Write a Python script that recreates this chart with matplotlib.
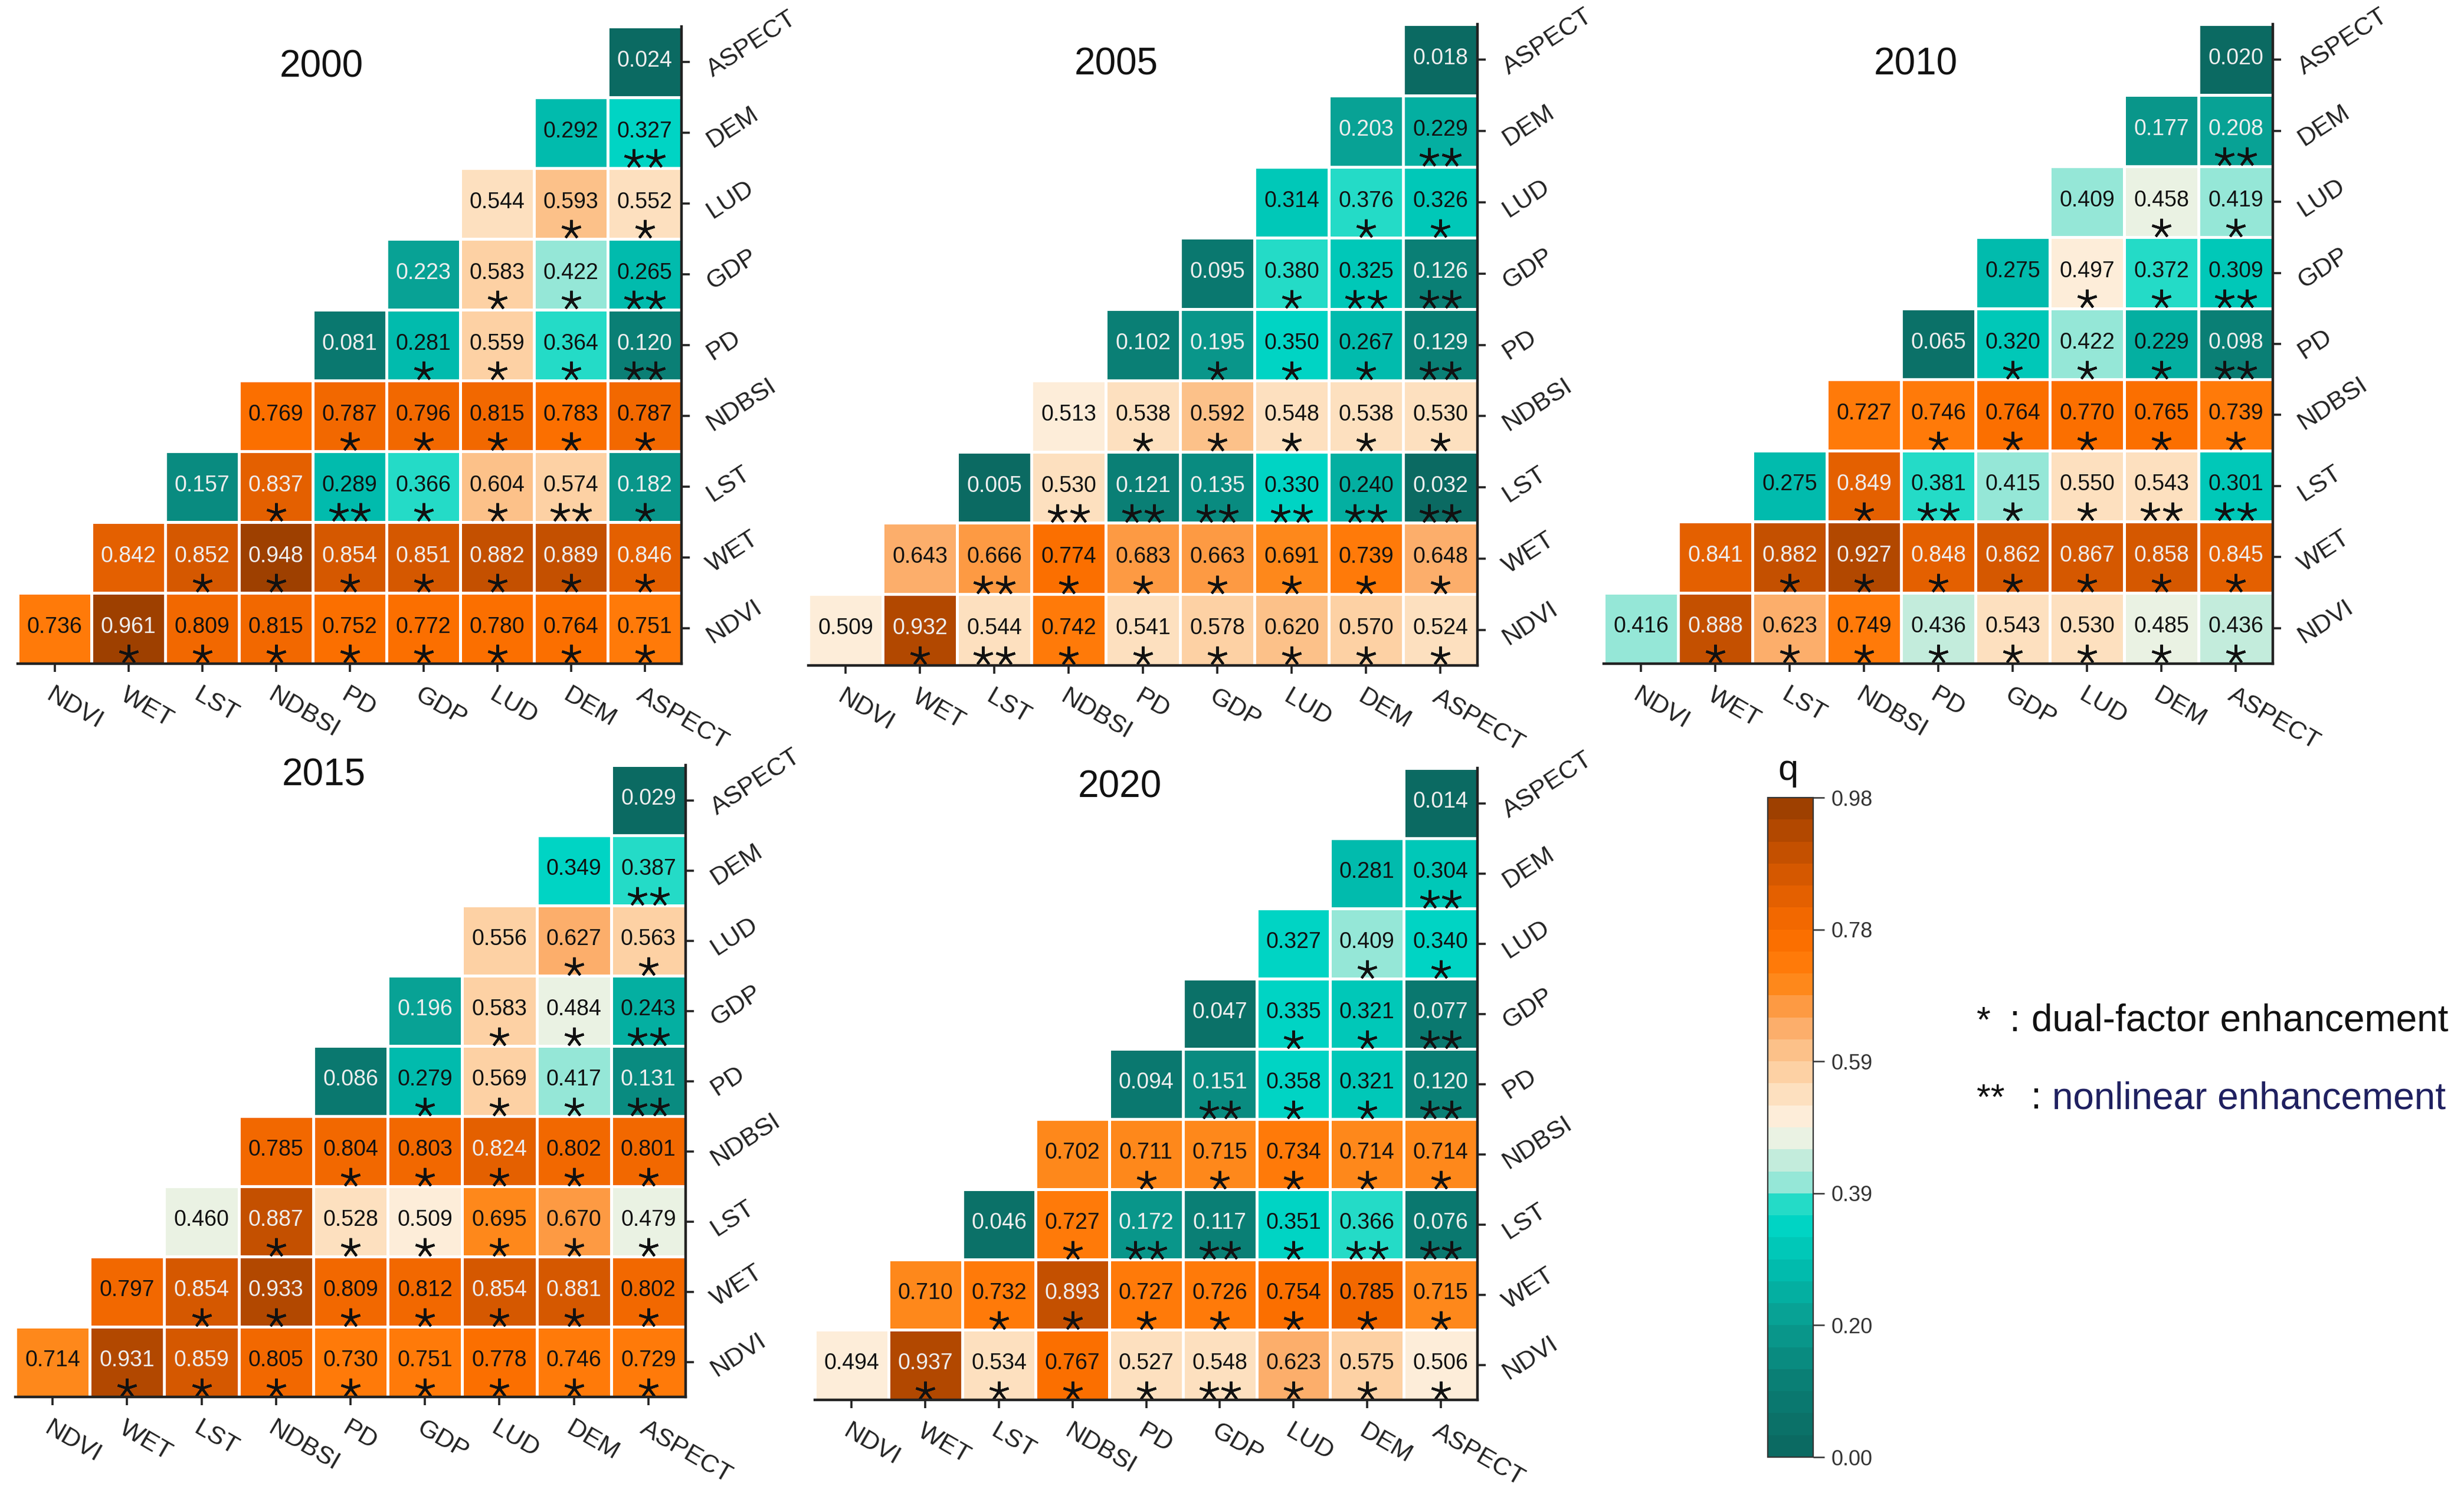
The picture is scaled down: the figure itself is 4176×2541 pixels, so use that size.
import numpy as np
import matplotlib

matplotlib.use("Agg")
import matplotlib.pyplot as plt
from matplotlib.colors import LinearSegmentedColormap, Normalize

plt.rcParams["font.family"] = ["Liberation Sans", "DejaVu Sans"]

FACTORS = ["NDVI", "WET", "LST", "NDBSI", "PD", "GDP", "LUD", "DEM", "ASPECT"]

# q values, one list per row (NDVI at the bottom), from the diagonal to ASPECT
Q_2000 = [
    [0.736, 0.961, 0.809, 0.815, 0.752, 0.772, 0.780, 0.764, 0.751],
    [0.842, 0.852, 0.948, 0.854, 0.851, 0.882, 0.889, 0.846],
    [0.157, 0.837, 0.289, 0.366, 0.604, 0.574, 0.182],
    [0.769, 0.787, 0.796, 0.815, 0.783, 0.787],
    [0.081, 0.281, 0.559, 0.364, 0.120],
    [0.223, 0.583, 0.422, 0.265],
    [0.544, 0.593, 0.552],
    [0.292, 0.327],
    [0.024],
]
STARS_2000 = [
    [0, 1, 1, 1, 1, 1, 1, 1, 1],
    [0, 1, 1, 1, 1, 1, 1, 1],
    [0, 1, 2, 1, 1, 2, 1],
    [0, 1, 1, 1, 1, 1],
    [0, 1, 1, 1, 2],
    [0, 1, 1, 2],
    [0, 1, 1],
    [0, 2],
    [0],
]

Q_2005 = [
    [0.509, 0.932, 0.544, 0.742, 0.541, 0.578, 0.620, 0.570, 0.524],
    [0.643, 0.666, 0.774, 0.683, 0.663, 0.691, 0.739, 0.648],
    [0.005, 0.530, 0.121, 0.135, 0.330, 0.240, 0.032],
    [0.513, 0.538, 0.592, 0.548, 0.538, 0.530],
    [0.102, 0.195, 0.350, 0.267, 0.129],
    [0.095, 0.380, 0.325, 0.126],
    [0.314, 0.376, 0.326],
    [0.203, 0.229],
    [0.018],
]
STARS_2005 = [
    [0, 1, 2, 1, 1, 1, 1, 1, 1],
    [0, 2, 1, 1, 1, 1, 1, 1],
    [0, 2, 2, 2, 2, 2, 2],
    [0, 1, 1, 1, 1, 1],
    [0, 1, 1, 1, 2],
    [0, 1, 2, 2],
    [0, 1, 1],
    [0, 2],
    [0],
]

Q_2010 = [
    [0.416, 0.888, 0.623, 0.749, 0.436, 0.543, 0.530, 0.485, 0.436],
    [0.841, 0.882, 0.927, 0.848, 0.862, 0.867, 0.858, 0.845],
    [0.275, 0.849, 0.381, 0.415, 0.550, 0.543, 0.301],
    [0.727, 0.746, 0.764, 0.770, 0.765, 0.739],
    [0.065, 0.320, 0.422, 0.229, 0.098],
    [0.275, 0.497, 0.372, 0.309],
    [0.409, 0.458, 0.419],
    [0.177, 0.208],
    [0.020],
]
STARS_2010 = [
    [0, 1, 1, 1, 1, 1, 1, 1, 1],
    [0, 1, 1, 1, 1, 1, 1, 1],
    [0, 1, 2, 1, 1, 2, 2],
    [0, 1, 1, 1, 1, 1],
    [0, 1, 1, 1, 2],
    [0, 1, 1, 2],
    [0, 1, 1],
    [0, 2],
    [0],
]

Q_2015 = [
    [0.714, 0.931, 0.859, 0.805, 0.730, 0.751, 0.778, 0.746, 0.729],
    [0.797, 0.854, 0.933, 0.809, 0.812, 0.854, 0.881, 0.802],
    [0.460, 0.887, 0.528, 0.509, 0.695, 0.670, 0.479],
    [0.785, 0.804, 0.803, 0.824, 0.802, 0.801],
    [0.086, 0.279, 0.569, 0.417, 0.131],
    [0.196, 0.583, 0.484, 0.243],
    [0.556, 0.627, 0.563],
    [0.349, 0.387],
    [0.029],
]
STARS_2015 = [
    [0, 1, 1, 1, 1, 1, 1, 1, 1],
    [0, 1, 1, 1, 1, 1, 1, 1],
    [0, 1, 1, 1, 1, 1, 1],
    [0, 1, 1, 1, 1, 1],
    [0, 1, 1, 1, 2],
    [0, 1, 1, 2],
    [0, 1, 1],
    [0, 2],
    [0],
]

Q_2020 = [
    [0.494, 0.937, 0.534, 0.767, 0.527, 0.548, 0.623, 0.575, 0.506],
    [0.710, 0.732, 0.893, 0.727, 0.726, 0.754, 0.785, 0.715],
    [0.046, 0.727, 0.172, 0.117, 0.351, 0.366, 0.076],
    [0.702, 0.711, 0.715, 0.734, 0.714, 0.714],
    [0.094, 0.151, 0.358, 0.321, 0.120],
    [0.047, 0.335, 0.321, 0.077],
    [0.327, 0.409, 0.340],
    [0.281, 0.304],
    [0.014],
]
STARS_2020 = [
    [0, 1, 1, 1, 1, 2, 1, 1, 1],
    [0, 1, 1, 1, 1, 1, 1, 1],
    [0, 1, 2, 2, 1, 2, 2],
    [0, 1, 1, 1, 1, 1],
    [0, 2, 1, 1, 2],
    [0, 1, 1, 2],
    [0, 1, 1],
    [0, 2],
    [0],
]

YEARS = ["2000", "2005", "2010", "2015", "2020"]
PANELS = [
    (Q_2000, STARS_2000), (Q_2005, STARS_2005), (Q_2010, STARS_2010),
    (Q_2015, STARS_2015), (Q_2020, STARS_2020),
]

CBAR_TICKS = [0.0, 0.196, 0.392, 0.588, 0.784, 0.98]

# teal -> cream -> orange -> brown, 30 flat bands like the original legend
Q_MAX = 0.98
_nodes = [
    (0.00, "#0b6a62"), (0.10, "#0a7f75"), (0.20, "#08a194"), (0.28, "#00bfb0"),
    (0.34, "#00d5c5"), (0.38, "#2edcc8"), (0.40, "#8ee6d6"), (0.44, "#c4ecdc"),
    (0.47, "#e8f2e4"), (0.50, "#fdf0de"), (0.54, "#fde0c0"), (0.58, "#fdcfa0"),
    (0.62, "#fcbb80"), (0.66, "#fca45a"), (0.70, "#fe8c20"), (0.76, "#ff7300"),
    (0.82, "#f06600"), (0.88, "#d45800"), (0.93, "#bb4c00"), (0.98, "#9e4000"),
]
CMAP = LinearSegmentedColormap.from_list(
    "q", [(v / Q_MAX, c) for v, c in _nodes], N=30)
NORM = Normalize(0.0, Q_MAX)

INK = "#111111"
LIGHT_INK = "#eeeeee"
NAVY = "#1f2060"

W, H = 4176, 2541
# axes boxes in pixels: left, top, right, bottom
BOXES = [
    (30, 45, 1155, 1125),
    (1370, 41, 2504, 1128),
    (2718, 41, 3852, 1125),
    (26, 1297, 1162, 2368),
    (1381, 1302, 2504, 2373),
]
TITLE_POS = [(0.458, 0.937), (0.46, 0.937), (0.466, 0.937), (0.46, 0.984), (0.46, 0.97)]


def draw_panel(ax, year, rows, stars, title_xy):
    n = len(FACTORS)
    q = np.full((n, n), np.nan)
    s = np.zeros((n, n), dtype=int)
    for r, (vals, st) in enumerate(zip(rows, stars)):
        q[r, r:] = vals
        s[r, r:] = st

    edges = np.arange(n + 1) - 0.5
    ax.pcolormesh(edges, edges, np.ma.masked_invalid(q), cmap=CMAP, norm=NORM,
                  edgecolors="white", linewidth=1.8)

    for r in range(n):
        for c in range(r, n):
            v = q[r, c]
            light = v < 0.225 or v > 0.82
            ax.text(c, r + 0.02, f"{v:.3f}", ha="center", va="center",
                    fontsize=13.5, color=LIGHT_INK if light else INK)
            k = s[r, c]
            if k:
                xs = c + (np.arange(k) - (k - 1) / 2) * 0.3
                ax.plot(xs, np.full(k, r - 0.37), ls="none", marker=(5, 2, 0),
                        ms=12, mew=1.5, color=INK)

    ax.set_xlim(-0.5, n - 0.5)
    ax.set_ylim(-0.5, n - 0.5)
    for side in ("top", "left"):
        ax.spines[side].set_visible(False)
    for side in ("bottom", "right"):
        ax.spines[side].set_linewidth(1.6)
        ax.spines[side].set_color("#222222")

    ax.yaxis.tick_right()
    ax.set_xticks(range(n))
    ax.set_yticks(range(n))
    ax.set_xticklabels(FACTORS, rotation=-30, ha="left", va="top",
                       rotation_mode="anchor")
    ax.set_yticklabels(FACTORS, rotation=33, ha="left", va="top",
                       rotation_mode="anchor")
    ax.tick_params(axis="x", direction="out", length=5, width=1.3, labelsize=15.5,
                   pad=7, colors="#222222")
    ax.tick_params(axis="y", direction="out", length=5, width=1.3, labelsize=15.5,
                   pad=8, colors="#222222")

    ax.text(title_xy[0], title_xy[1], year, transform=ax.transAxes,
            ha="center", va="center", fontsize=23, color=INK)


fig = plt.figure(figsize=(W / 200, H / 200), dpi=200)

for (rows, stars), year, box, txy in zip(PANELS, YEARS, BOXES, TITLE_POS):
    l, t, r, b = box
    ax = fig.add_axes([l / W, 1 - b / H, (r - l) / W, (b - t) / H])
    draw_panel(ax, year, rows, stars, txy)

# colour bar
cax = fig.add_axes([2996 / W, 1 - 2470 / H, 77 / W, 1118 / H])
sm = plt.cm.ScalarMappable(cmap=CMAP, norm=NORM)
cb = fig.colorbar(sm, cax=cax, ticks=CBAR_TICKS, format="%.2f")
cb.outline.set_linewidth(0.8)
cb.outline.set_edgecolor("#333333")
cax.tick_params(direction="out", length=7, width=0.9, labelsize=13, pad=4,
                colors="#333333")
fig.text(3030 / W, 1 - 1322 / H, "q", ha="center", va="baseline",
         fontsize=22, color=INK)

# enhancement key
fig.text(3350 / W, 1 - 1748 / H, "*", ha="left", va="baseline", fontsize=22, color=INK)
fig.text(3405 / W, 1 - 1748 / H, ":", ha="left", va="baseline", fontsize=23, color=INK)
fig.text(3443 / W, 1 - 1748 / H, "dual-factor enhancement", ha="left",
         va="baseline", fontsize=23, color=INK)
fig.text(3350 / W, 1 - 1879 / H, "**", ha="left", va="baseline", fontsize=22, color=INK)
fig.text(3441 / W, 1 - 1879 / H, ":", ha="left", va="baseline", fontsize=23, color=INK)
fig.text(3478 / W, 1 - 1879 / H, "nonlinear enhancement", ha="left",
         va="baseline", fontsize=23, color=NAVY)

fig.savefig("out.png", dpi=200)
plt.close(fig)
